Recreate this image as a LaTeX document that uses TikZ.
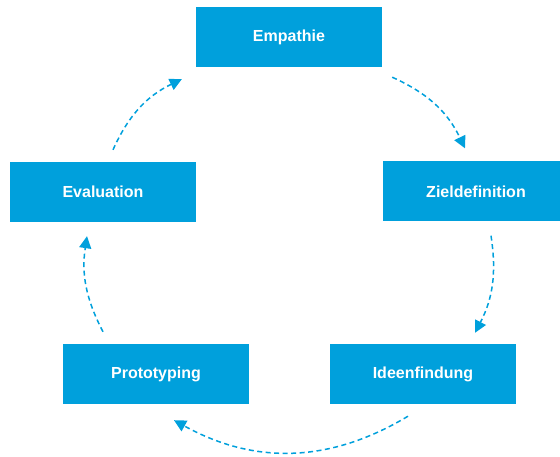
\documentclass[tikz,border=0pt]{standalone}
\usepackage{fontspec}
\setmainfont{Liberation Sans}
\usetikzlibrary{arrows.meta,calc}
\definecolor{boxblue}{HTML}{00A0DC}
\begin{document}
\begin{tikzpicture}[x=1pt,y=-1pt,
  phase/.style={fill=boxblue,draw=none,text=white,minimum width=186pt,minimum height=60pt,inner sep=0pt,font=\bfseries\fontsize{16}{19}\selectfont},
  flow/.style={draw=boxblue,line width=1.5pt,dash pattern=on 5pt off 3.5pt,-{Triangle[length=12pt,width=12pt]},bend left=#1},
  flow/.default=20]
\useasboundingbox (0,0) rectangle (560,457);
\node[phase] (emp) at (289,37) {Empathie};
\node[phase] (zie) at (476,191.5) {Zieldefinition};
\node[phase] (ide) at (423,374) {Ideenfindung};
\node[phase] (pro) at (156,374) {Prototyping};
\node[phase] (eva) at (103,192) {Evaluation};
\draw[flow=20] ($(emp.south east)+(10,10)$) to ($(zie.north)+(-11,-13)$);
\draw[flow=18] ($(zie.south)+(15,14)$) to ($(ide.north)+(52,-11)$);
\draw[flow=30] ($(ide.south)+(-15,12)$) to ($(pro.south)+(18,16)$);
\draw[flow=18] ($(pro.north)+(-53,-12)$) to ($(eva.south)+(-16,14)$);
\draw[flow=20] ($(eva.north)+(10,-12)$) to ($(emp.south west)+(-14,12)$);
\end{tikzpicture}
\end{document}
